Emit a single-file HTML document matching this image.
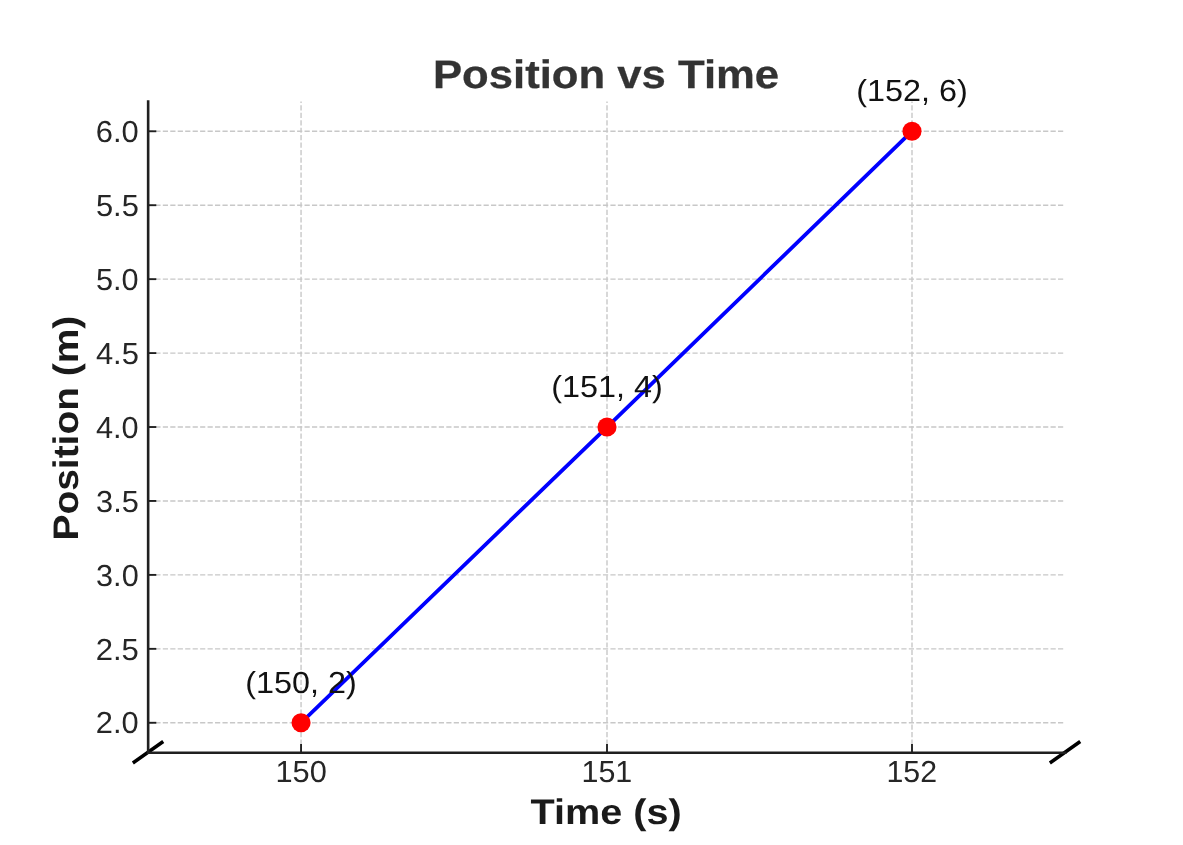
<!DOCTYPE html>
<html lang="en">
<head>
<meta charset="utf-8">
<title>Position vs Time</title>
<style>
html,body{margin:0;padding:0;background:#ffffff;}
body{width:1183px;height:845px;overflow:hidden;font-family:"Liberation Sans",sans-serif;}
svg{display:block;will-change:transform;}
text{font-family:"Liberation Sans",sans-serif;text-rendering:geometricPrecision;}
.tick{font-size:30.4px;fill:#262626;}
.ann{font-size:30.4px;fill:#121212;}
.lab{font-size:35.5px;font-weight:bold;fill:#1a1a1a;}
.ttl{font-size:39.8px;font-weight:bold;fill:#333333;stroke:#333333;stroke-width:0.28px;}
</style>
</head>
<body>
<svg width="1183" height="845" viewBox="0 0 1183 845">
<rect x="0" y="0" width="1183" height="845" fill="#ffffff"/>
<!-- grid -->
<g stroke="#c8c8c8" stroke-width="1.41" stroke-dasharray="5.21 2.25" fill="none">
<line x1="301.05" y1="752.05" x2="301.05" y2="101.4"/>
<line x1="607.00" y1="752.05" x2="607.00" y2="101.4"/>
<line x1="912.00" y1="752.05" x2="912.00" y2="101.4"/>
<line x1="147.88" y1="722.77" x2="1064.7" y2="722.77"/>
<line x1="147.88" y1="648.84" x2="1064.7" y2="648.84"/>
<line x1="147.88" y1="574.90" x2="1064.7" y2="574.90"/>
<line x1="147.88" y1="500.96" x2="1064.7" y2="500.96"/>
<line x1="147.88" y1="427.02" x2="1064.7" y2="427.02"/>
<line x1="147.88" y1="353.09" x2="1064.7" y2="353.09"/>
<line x1="147.88" y1="279.15" x2="1064.7" y2="279.15"/>
<line x1="147.88" y1="205.21" x2="1064.7" y2="205.21"/>
<line x1="147.88" y1="131.28" x2="1064.7" y2="131.28"/>
</g>
<!-- tick marks -->
<g stroke="#202020" stroke-width="1.88" fill="none">
<line x1="301.05" y1="752.4" x2="301.05" y2="744.0"/>
<line x1="607.00" y1="752.4" x2="607.00" y2="744.0"/>
<line x1="912.00" y1="752.4" x2="912.00" y2="744.0"/>
<line x1="148.4" y1="722.77" x2="156.3" y2="722.77"/>
<line x1="148.4" y1="648.84" x2="156.3" y2="648.84"/>
<line x1="148.4" y1="574.90" x2="156.3" y2="574.90"/>
<line x1="148.4" y1="500.96" x2="156.3" y2="500.96"/>
<line x1="148.4" y1="427.02" x2="156.3" y2="427.02"/>
<line x1="148.4" y1="353.09" x2="156.3" y2="353.09"/>
<line x1="148.4" y1="279.15" x2="156.3" y2="279.15"/>
<line x1="148.4" y1="205.21" x2="156.3" y2="205.21"/>
<line x1="148.4" y1="131.28" x2="156.3" y2="131.28"/>
</g>
<!-- data line -->
<polyline points="301.05,722.77 607.0,427.02 912.0,131.28" fill="none" stroke="#0000ff" stroke-width="3.8" stroke-linecap="square" stroke-linejoin="round"/>
<!-- axis break marks -->
<g stroke="#000000" stroke-width="3.52" stroke-linecap="square" fill="none">
<line x1="134.3" y1="762.0" x2="161.8" y2="742.5"/>
<line x1="1051.3" y1="762.0" x2="1078.8" y2="742.5"/>
</g>
<!-- spines -->
<g stroke="#202020" stroke-width="2.6" fill="none">
<line x1="148.15" y1="100.3" x2="148.15" y2="754.0"/>
<line x1="146.85" y1="752.7" x2="1066.5" y2="752.7"/>
</g>
<!-- markers -->
<circle cx="301.05" cy="722.77" r="9.55" fill="#ff0000"/>
<circle cx="607.0" cy="427.02" r="9.55" fill="#ff0000"/>
<circle cx="912.0" cy="131.28" r="9.55" fill="#ff0000"/>
<!-- text -->
<text class="ttl" transform="translate(432.91,87.50) scale(1.0974,1)">Position vs Time</text>
<text class="lab" transform="translate(530.55,823.50) scale(1.1158,1)">Time (s)</text>
<text class="lab" transform="translate(77.70,540.52) rotate(-90) scale(1.0962,1)">Position (m)</text>
<text class="tick" transform="translate(275.47,782.40) scale(1.0121,1)">150</text>
<text class="tick" transform="translate(581.49,782.40) scale(1.0003,1)">151</text>
<text class="tick" transform="translate(886.52,782.40) scale(0.9962,1)">152</text>
<text class="ann" transform="translate(856.26,101.00) scale(1.0645,1)">(152, 6)</text>
<text class="ann" transform="translate(551.26,397.00) scale(1.0645,1)">(151, 4)</text>
<text class="ann" transform="translate(245.26,693.00) scale(1.0645,1)">(150, 2)</text>
<text class="tick" transform="translate(95.70,142.00) scale(1.0166,1)">6.0</text>
<text class="tick" transform="translate(95.98,216.00) scale(1.0135,1)">5.5</text>
<text class="tick" transform="translate(95.96,290.00) scale(1.0092,1)">5.0</text>
<text class="tick" transform="translate(95.93,364.00) scale(1.0153,1)">4.5</text>
<text class="tick" transform="translate(95.92,438.00) scale(1.0102,1)">4.0</text>
<text class="tick" transform="translate(96.10,512.00) scale(1.0097,1)">3.5</text>
<text class="tick" transform="translate(96.08,586.00) scale(1.0083,1)">3.0</text>
<text class="tick" transform="translate(95.65,660.00) scale(1.0207,1)">2.5</text>
<text class="tick" transform="translate(95.84,733.00) scale(1.0140,1)">2.0</text>
</svg>
</body>
</html>
